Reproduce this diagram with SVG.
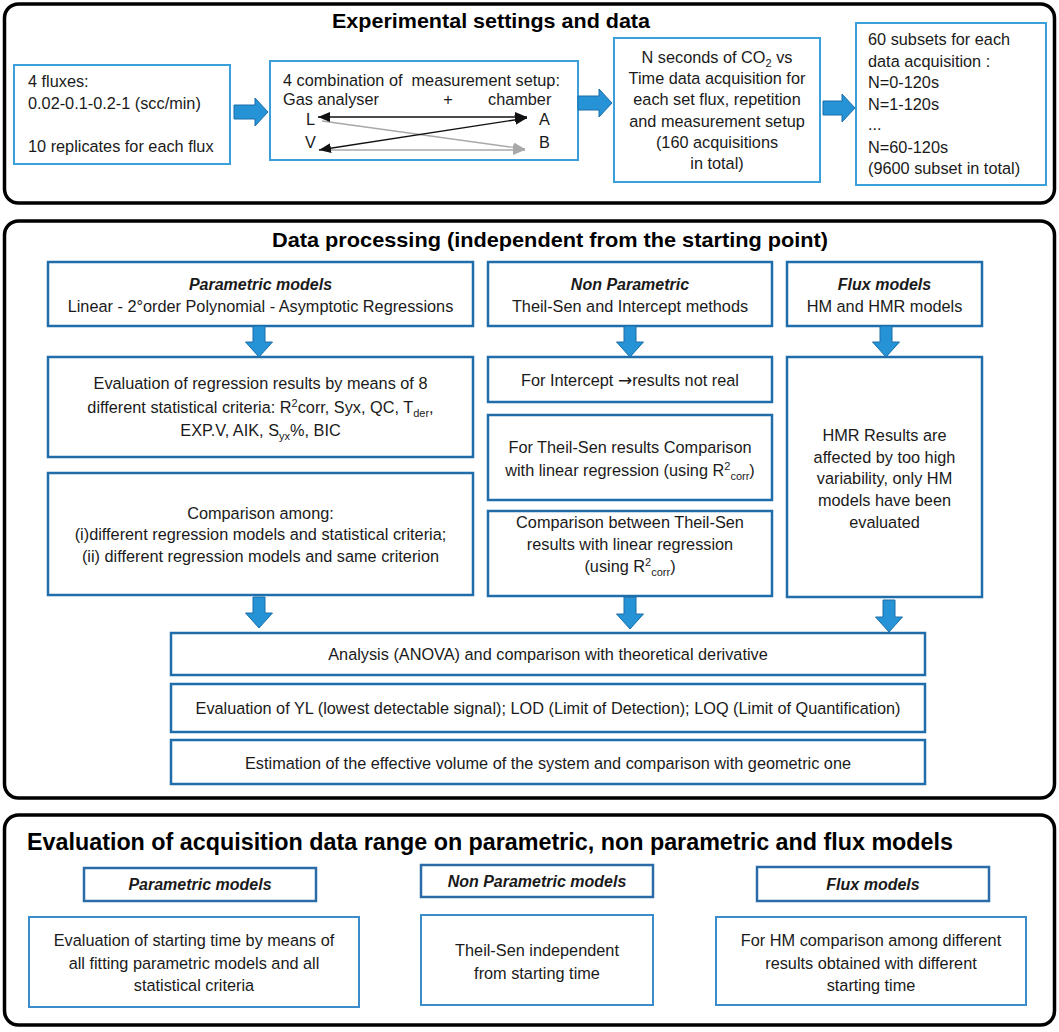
<svg xmlns="http://www.w3.org/2000/svg" width="1059" height="1032" viewBox="0 0 1059 1032">
<style>
.sec{fill:#fff;stroke:#000;stroke-width:3.5}
.bt{fill:#fff;stroke:#3BA0DA;stroke-width:2}
.bm{fill:#fff;stroke:#1F6DAA;stroke-width:2.5}
.bh{fill:#fff;stroke:#2B6CA6;stroke-width:2.5}
.bc{fill:#fff;stroke:#3A8CCB;stroke-width:2}
.t{font-family:"Liberation Sans",Arial,sans-serif;font-size:16.3px;fill:#1a1a1a}
.c{text-anchor:middle}
.h{font-weight:bold;font-size:21px;fill:#000}
.bi{font-weight:bold;font-style:italic;font-size:16px}
.s{font-size:11px}
.ar{font-family:"DejaVu Sans",sans-serif;font-size:17px}
.ba{fill:#2593D5;stroke:#1C6FAA;stroke-width:1}
.lk{stroke:#111;stroke-width:1.4;fill:none}
.lg{stroke:#A8A8A8;stroke-width:1.4;fill:none}
</style>
<defs>
<marker id="hk" markerUnits="userSpaceOnUse" markerWidth="12" markerHeight="10" refX="12" refY="5" orient="auto-start-reverse"><path d="M0,0 L12,5 L0,10 z" fill="#111"/></marker>
<marker id="hg" markerUnits="userSpaceOnUse" markerWidth="12" markerHeight="10" refX="12" refY="5" orient="auto-start-reverse"><path d="M0,0 L12,5 L0,10 z" fill="#A8A8A8"/></marker>
</defs>
<rect width="1059" height="1032" fill="#fff"/>

<g id="section-experimental">
<rect class="sec" x="4.5" y="4" width="1050" height="199" rx="14"/>
<text class="t h" x="332" y="28" textLength="318" lengthAdjust="spacingAndGlyphs">Experimental settings and data</text>
</g>
<g id="section-processing">
<rect class="sec" x="4.5" y="221" width="1050" height="577" rx="14"/>
<text class="t h c" x="550" y="247" textLength="556" lengthAdjust="spacingAndGlyphs">Data processing (independent from the starting point)</text>
</g>
<g id="section-evaluation">
<rect class="sec" x="4.5" y="815" width="1050" height="210" rx="14"/>
<text class="t h c" x="490" y="850" style="font-size:23px" textLength="926" lengthAdjust="spacingAndGlyphs">Evaluation of acquisition data range on parametric, non parametric and flux models</text>
</g>

<g id="node-fluxes">
<rect class="bt" x="14" y="65" width="216" height="99"/>
<text class="t" x="28" y="87">4 fluxes:</text>
<text class="t" x="28" y="108.5">0.02-0.1-0.2-1 (scc/min)</text>
<text class="t" x="28" y="151.5">10 replicates for each flux</text>
</g>
<g id="node-setup">
<rect class="bt" x="270" y="61" width="308" height="99"/>
<text class="t" x="283" y="86" xml:space="preserve">4 combination of  measurement setup:</text>
<text class="t" x="283" y="105">Gas analyser</text>
<text class="t c" x="448" y="105">+</text>
<text class="t" x="488" y="105">chamber</text>
<text class="t" x="306" y="125">L</text>
<text class="t" x="305" y="148">V</text>
<text class="t" x="539" y="125">A</text>
<text class="t" x="539" y="148">B</text>
<line class="lg" x1="322" y1="121" x2="525" y2="149" marker-end="url(#hg)"/>
<line class="lg" x1="326" y1="150" x2="525" y2="150" marker-end="url(#hg)"/>
<line class="lk" x1="318" y1="117" x2="527" y2="117" marker-start="url(#hk)" marker-end="url(#hk)"/>
<line class="lk" x1="319" y1="150" x2="527" y2="118" marker-start="url(#hk)" marker-end="url(#hk)"/>
</g>
<g id="node-acquisition">
<rect class="bt" x="614" y="38" width="206" height="144"/>
<text class="t c" x="717" y="63">N seconds of CO<tspan class="s" dy="4">2</tspan><tspan dy="-4"> vs</tspan></text>
<text class="t c" x="717" y="84">Time data acquisition for</text>
<text class="t c" x="717" y="105">each set flux, repetition</text>
<text class="t c" x="717" y="127">and measurement setup</text>
<text class="t c" x="717" y="148">(160 acquisitions</text>
<text class="t c" x="717" y="169">in total)</text>
</g>
<g id="node-subsets">
<rect class="bt" x="856" y="23" width="190" height="162"/>
<text class="t" x="868" y="45">60 subsets for each</text>
<text class="t" x="868" y="66.5">data acquisition :</text>
<text class="t" x="868" y="88">N=0-120s</text>
<text class="t" x="868" y="109.5">N=1-120s</text>
<text class="t" x="868" y="130">...</text>
<text class="t" x="868" y="152.5">N=60-120s</text>
<text class="t" x="868" y="174">(9600 subset in total)</text>
</g>

<g id="node-param-head">
<rect class="bm" x="48" y="262" width="425" height="64"/>
<text class="t c bi" x="260.5" y="290">Parametric models</text>
<text class="t c" x="260.5" y="312">Linear - 2°order Polynomial - Asymptotic Regressions</text>
</g>
<g id="node-nonparam-head">
<rect class="bm" x="488" y="262" width="284" height="64"/>
<text class="t c bi" x="630" y="290">Non Parametric</text>
<text class="t c" x="630" y="312">Theil-Sen and Intercept methods</text>
</g>
<g id="node-flux-head">
<rect class="bm" x="787" y="262" width="195" height="64"/>
<text class="t c bi" x="884.5" y="290">Flux models</text>
<text class="t c" x="884.5" y="312">HM and HMR models</text>
</g>
<g id="node-eval-regression">
<rect class="bm" x="48" y="357" width="425" height="100"/>
<text class="t c" x="260.5" y="389">Evaluation of regression results by means of 8</text>
<text class="t c" x="260.5" y="413">different statistical criteria: R<tspan class="s" dy="-6">2</tspan><tspan dy="6">corr, Syx, QC, T</tspan><tspan class="s" dy="4">der</tspan><tspan dy="-4">,</tspan></text>
<text class="t c" x="260.5" y="436">EXP.V, AIK, S<tspan class="s" dy="4">yx</tspan><tspan dy="-4">%, BIC</tspan></text>
</g>
<g id="node-intercept">
<rect class="bm" x="488" y="357" width="284" height="45"/>
<text class="t c" x="630" y="386">For Intercept <tspan class="ar">→</tspan>results not real</text>
</g>
<g id="node-theilsen">
<rect class="bm" x="488" y="415" width="284" height="85"/>
<text class="t c" x="630" y="453">For Theil-Sen results Comparison</text>
<text class="t c" x="630" y="476">with linear regression (using R<tspan class="s" dy="-6">2</tspan><tspan class="s" dy="10">corr</tspan><tspan dy="-4">)</tspan></text>
</g>
<g id="node-compare-between">
<rect class="bm" x="488" y="511" width="284" height="85"/>
<text class="t c" x="630" y="528">Comparison between Theil-Sen</text>
<text class="t c" x="630" y="550">results with linear regression</text>
<text class="t c" x="630" y="572">(using R<tspan class="s" dy="-6">2</tspan><tspan class="s" dy="10">corr</tspan><tspan dy="-4">)</tspan></text>
</g>
<g id="node-hmr">
<rect class="bm" x="787" y="357" width="195" height="240"/>
<text class="t c" x="884.5" y="441">HMR Results are</text>
<text class="t c" x="884.5" y="463">affected by too high</text>
<text class="t c" x="884.5" y="484">variability, only HM</text>
<text class="t c" x="884.5" y="506">models have been</text>
<text class="t c" x="884.5" y="528">evaluated</text>
</g>
<g id="node-compare-among">
<rect class="bm" x="48" y="473" width="425" height="122"/>
<text class="t c" x="260.5" y="519">Comparison among:</text>
<text class="t c" x="260.5" y="540">(i)different regression models and statistical criteria;</text>
<text class="t c" x="260.5" y="562">(ii) different regression models and same criterion</text>
</g>
<g id="node-anova">
<rect class="bm" x="171" y="633" width="754" height="42"/>
<text class="t c" x="548" y="660">Analysis (ANOVA) and comparison with theoretical derivative</text>
</g>
<g id="node-yl">
<rect class="bm" x="171" y="684" width="754" height="48"/>
<text class="t c" x="548" y="714">Evaluation of YL (lowest detectable signal); LOD (Limit of Detection); LOQ (Limit of Quantification)</text>
</g>
<g id="node-volume">
<rect class="bm" x="171" y="740" width="754" height="44"/>
<text class="t c" x="548" y="769">Estimation of the effective volume of the system and comparison with geometric one</text>
</g>

<g id="node-b-param-head">
<rect class="bh" x="84" y="868" width="232" height="33"/>
<text class="t c bi" x="200" y="890">Parametric models</text>
</g>
<g id="node-b-nonparam-head">
<rect class="bh" x="421" y="865" width="232" height="32"/>
<text class="t c bi" x="537" y="887">Non Parametric models</text>
</g>
<g id="node-b-flux-head">
<rect class="bh" x="757" y="867" width="232" height="34"/>
<text class="t c bi" x="873" y="890">Flux models</text>
</g>
<g id="node-b-param">
<rect class="bc" x="29" y="917" width="330" height="90"/>
<text class="t c" x="194" y="946">Evaluation of starting time by means of</text>
<text class="t c" x="194" y="969">all fitting parametric models and all</text>
<text class="t c" x="194" y="991">statistical criteria</text>
</g>
<g id="node-b-nonparam">
<rect class="bc" x="421" y="915" width="232" height="90"/>
<text class="t c" x="537" y="956">Theil-Sen independent</text>
<text class="t c" x="537" y="979">from starting time</text>
</g>
<g id="node-b-flux">
<rect class="bc" x="716" y="917" width="310" height="88"/>
<text class="t c" x="871" y="946">For HM comparison among different</text>
<text class="t c" x="871" y="969">results obtained with different</text>
<text class="t c" x="871" y="991">starting time</text>
</g>

<g id="connectors">
<path class="ba" d="M234,105 H255 V98 L268,112 L255,126 V119 H234 Z"/>
<path class="ba" d="M578,96 H599 V89 L612,103 L599,117 V110 H578 Z"/>
<path class="ba" d="M823,101 H842 V94 L855,108 L842,122 V115 H823 Z"/>
<path class="ba" d="M253,326 V342 H245.5 L259,357 L272.5,342 H265 V326 Z"/>
<path class="ba" d="M624,326 V342 H616.5 L630,357 L643.5,342 H636 V326 Z"/>
<path class="ba" d="M880,326 V342 H872.5 L886,357 L899.5,342 H892 V326 Z"/>
<path class="ba" d="M253,597 V613 H245.5 L259,628 L272.5,613 H265 V597 Z"/>
<path class="ba" d="M624,597 V614 H616.5 L630,629 L643.5,614 H636 V597 Z"/>
<path class="ba" d="M883,600 V617 H875.5 L889,632 L902.5,617 H895 V600 Z"/>
</g>
</svg>
